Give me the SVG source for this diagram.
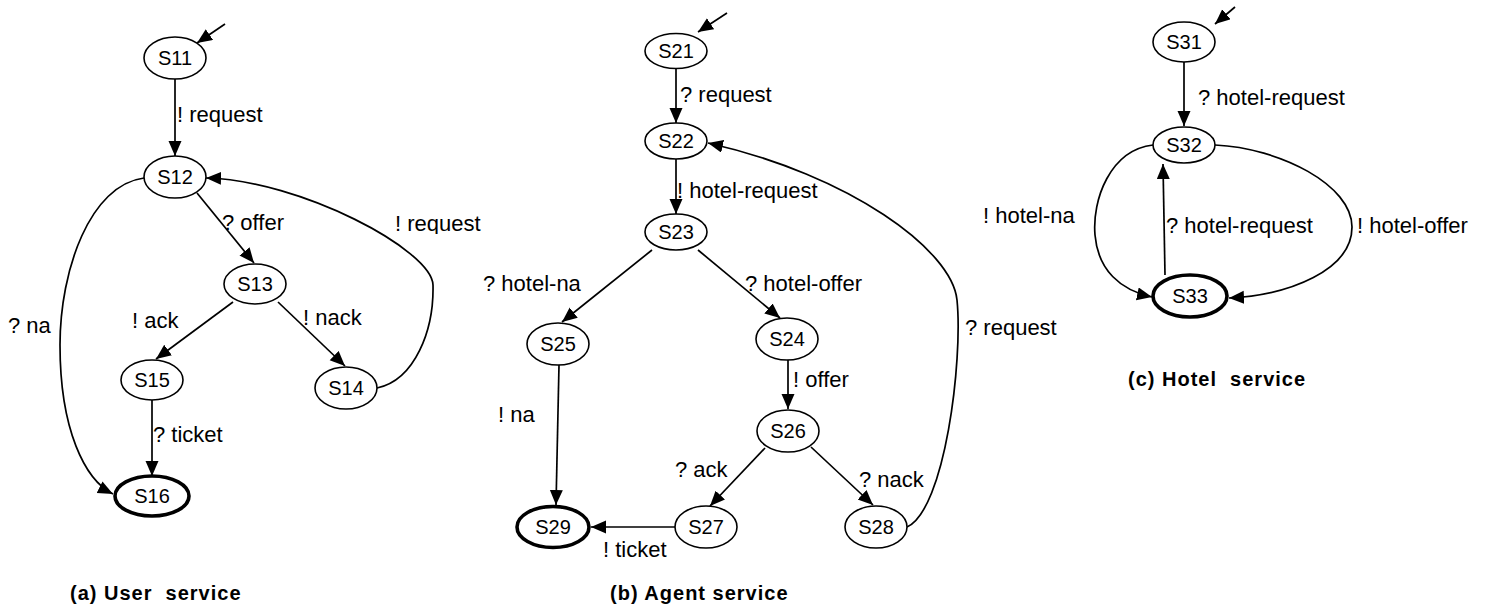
<svg xmlns="http://www.w3.org/2000/svg" width="1491" height="607" viewBox="0 0 1491 607">
<defs>
<marker id="ah" markerUnits="userSpaceOnUse" markerWidth="16" markerHeight="14" refX="15" refY="6.5" orient="auto"><path d="M0,0 L15,6.5 L0,13 z" fill="#000"/></marker>
<clipPath id="cut"><rect x="380" y="200" width="120" height="34"/></clipPath>
<style>
.n ellipse{fill:#fff;stroke:#000;stroke-width:1.6}
.n.f ellipse{stroke-width:3.6}
.n text{font-family:"Liberation Sans",Arial,sans-serif;font-size:20px;text-anchor:middle;fill:#000}
.e path{fill:none;stroke:#000;stroke-width:1.7;marker-end:url(#ah)}
.l text{font-family:"Liberation Sans",Arial,sans-serif;font-size:22px;fill:#000}
.cap{font-family:"Liberation Sans",Arial,sans-serif;font-size:20px;font-weight:bold;letter-spacing:1px;fill:#000;white-space:pre}
</style>
</defs>
<rect width="1491" height="607" fill="#fff"/>
<g id="connectors" class="e">
<!-- panel a -->
<path d="M225 24 L197 43"/>
<path d="M175 79 L175 156"/>
<path d="M197 193 L254 263"/>
<path d="M233 302 L156 359"/>
<path d="M278 302 L345 366"/>
<path d="M152 400 L152 476"/>
<path d="M144 178 C90 185 60 270 60 345 C60 430 85 480 113 494"/>
<path d="M377 388 C415 380 434 330 433 285 C432 250 300 180 206 178"/>
<!-- panel b -->
<path d="M727 13 L698 32"/>
<path d="M676 68 L676 123"/>
<path d="M676 159 L676 214"/>
<path d="M652 250 L562 322"/>
<path d="M698 250 L780 318"/>
<path d="M559 365 L556 505"/>
<path d="M788 360 L788 409"/>
<path d="M765 448 L710 506"/>
<path d="M811 447 L873 505"/>
<path d="M675 527 L591 527"/>
<path d="M907 527 C945 510 963 360 957 300 C952 250 850 175 708 143"/>
<!-- panel c -->
<path d="M1235 7 L1215 24"/>
<path d="M1184 62 L1184 126"/>
<path d="M1165 275 L1163 164"/>
<path d="M1153 145 C1110 150 1092 200 1095 235 C1098 270 1120 290 1152 297"/>
<path d="M1215 145 C1280 148 1352 185 1352 227 C1352 270 1290 295 1229 298"/>
</g>
<g id="S11" class="n"><ellipse cx="175" cy="58" rx="31" ry="21"/><text x="175" y="65">S11</text></g>
<g id="S12" class="n"><ellipse cx="175" cy="177" rx="31" ry="21"/><text x="175" y="184">S12</text></g>
<g id="S13" class="n"><ellipse cx="255" cy="284" rx="31" ry="20"/><text x="255" y="291">S13</text></g>
<g id="S15" class="n"><ellipse cx="152" cy="380" rx="31" ry="20"/><text x="152" y="387">S15</text></g>
<g id="S14" class="n"><ellipse cx="346" cy="388" rx="31" ry="21"/><text x="346" y="395">S14</text></g>
<g id="S16" class="n f"><ellipse cx="152" cy="496" rx="37" ry="20"/><text x="152" y="503">S16</text></g>
<g id="S21" class="n"><ellipse cx="676" cy="51" rx="31" ry="17.5"/><text x="676" y="58">S21</text></g>
<g id="S22" class="n"><ellipse cx="676" cy="141" rx="31" ry="18"/><text x="676" y="148">S22</text></g>
<g id="S23" class="n"><ellipse cx="676" cy="232" rx="31" ry="18"/><text x="676" y="239">S23</text></g>
<g id="S25" class="n"><ellipse cx="558" cy="344" rx="31" ry="21"/><text x="558" y="351">S25</text></g>
<g id="S24" class="n"><ellipse cx="787" cy="339" rx="31" ry="21"/><text x="787" y="346">S24</text></g>
<g id="S26" class="n"><ellipse cx="788" cy="431" rx="31" ry="21"/><text x="788" y="438">S26</text></g>
<g id="S29" class="n f"><ellipse cx="553" cy="527" rx="36" ry="20.5"/><text x="553" y="534">S29</text></g>
<g id="S27" class="n"><ellipse cx="706" cy="527" rx="31" ry="21"/><text x="706" y="534">S27</text></g>
<g id="S28" class="n"><ellipse cx="876" cy="527" rx="31" ry="21"/><text x="876" y="534">S28</text></g>
<g id="S31" class="n"><ellipse cx="1184" cy="42" rx="31" ry="20"/><text x="1184" y="49">S31</text></g>
<g id="S32" class="n"><ellipse cx="1184" cy="145" rx="31" ry="18"/><text x="1184" y="152">S32</text></g>
<g id="S33" class="n f"><ellipse cx="1190" cy="296" rx="37" ry="21"/><text x="1190" y="303">S33</text></g>
<g id="labels" class="l">
<text x="177" y="122">! request</text>
<text x="222" y="230">? offer</text>
<text x="395" y="231" clip-path="url(#cut)">! request</text>
<text x="132" y="328">! ack</text>
<text x="303" y="325">! nack</text>
<text x="8" y="333">? na</text>
<text x="153" y="442">? ticket</text>
<text x="680" y="102">? request</text>
<text x="677" y="198">! hotel-request</text>
<text x="483" y="291">? hotel-na</text>
<text x="745" y="291">? hotel-offer</text>
<text x="498" y="422">! na</text>
<text x="793" y="387">! offer</text>
<text x="675" y="477">? ack</text>
<text x="859" y="487">? nack</text>
<text x="603" y="557">! ticket</text>
<text x="965" y="335">? request</text>
<text x="1198" y="105">? hotel-request</text>
<text x="983" y="223">! hotel-na</text>
<text x="1166" y="233">? hotel-request</text>
<text x="1357" y="233">! hotel-offer</text>
</g>
<g id="captions">
<text class="cap" x="70" y="600" xml:space="preserve">(a) User  service</text>
<text class="cap" x="610" y="600">(b) Agent service</text>
<text class="cap" x="1128" y="386" xml:space="preserve">(c) Hotel  service</text>
</g>
</svg>
